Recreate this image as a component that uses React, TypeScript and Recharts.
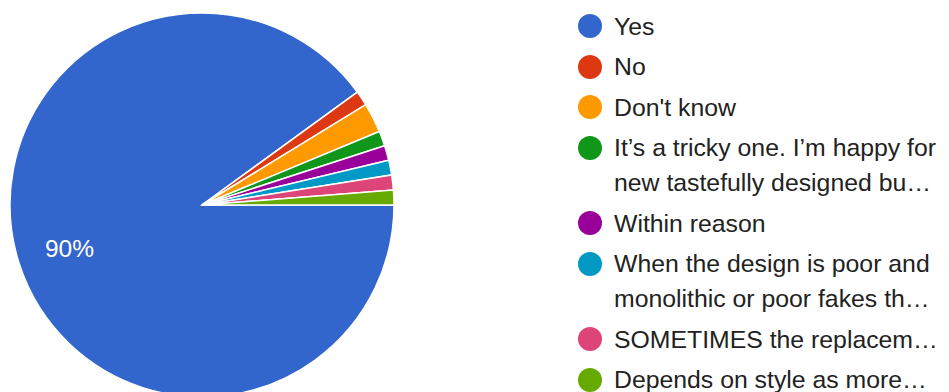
import { PieChart, Pie, Cell, Legend } from "recharts";

const categories = [
  "Yes",
  "No",
  "Don't know",
  "It’s a tricky one. I’m happy for\nnew tastefully designed bu…",
  "Within reason",
  "When the design is poor and\nmonolithic or poor fakes th…",
  "SOMETIMES the replacem…",
  "Depends on style as more…",
];

const responses = [72, 1, 2, 1, 1, 1, 1, 1];

const colors = [
  "#3366cc",
  "#dc3912",
  "#ff9900",
  "#109618",
  "#990099",
  "#0099c6",
  "#dd4477",
  "#66aa00",
];

const FONT = "Arial, 'Liberation Sans', sans-serif";
const RADIAN = Math.PI / 180;

const data = categories.map((name, i) => ({ name, value: responses[i] }));
const total = responses.reduce((a, b) => a + b, 0);

// google only prints the label on slices that are big enough
function renderLabel(props: any) {
  const { cx, cy, midAngle, outerRadius, value } = props;
  const pct = value / total;
  if (pct < 0.05) return null;
  const r = outerRadius * 0.726;
  const x = cx + r * Math.cos(-midAngle * RADIAN);
  const y = cy + r * Math.sin(-midAngle * RADIAN);
  return (
    <text
      x={x}
      y={y}
      fill="#ffffff"
      textAnchor="middle"
      dominantBaseline="central"
      fontSize={24.5}
      fontFamily={FONT}
    >
      {`${Math.round(pct * 100)}%`}
    </text>
  );
}

function LegendList() {
  return (
    <div style={{ fontFamily: FONT, fontSize: 24.8, color: "#222222" }}>
      {categories.map((name, i) => (
        <div
          key={i}
          style={{ position: "relative", paddingLeft: 36, marginBottom: 5.5 }}
        >
          <span
            style={{
              position: "absolute",
              left: 0,
              top: 5.5,
              width: 24,
              height: 24,
              borderRadius: "50%",
              background: colors[i],
            }}
          />
          {name.split("\n").map((line, j) => (
            <div key={j} style={{ height: 35, lineHeight: "35px", whiteSpace: "nowrap" }}>
              {line}
            </div>
          ))}
        </div>
      ))}
    </div>
  );
}

export default function App() {
  return (
    <div style={{ position: "absolute", left: 0, top: 0, width: 949, height: 392, overflow: "hidden", background: "#fff" }}>
      <PieChart width={949} height={392} margin={{ top: 0, right: 0, bottom: 0, left: 0 }}>
        <Pie
          data={data}
          dataKey="value"
          nameKey="name"
          cx={202}
          cy={205}
          outerRadius={192}
          startAngle={0}
          endAngle={-360}
          stroke="#ffffff"
          strokeWidth={1.5}
          labelLine={false}
          label={renderLabel}
          isAnimationActive={false}
        >
          {data.map((d, i) => (
            <Cell key={d.name} fill={colors[i]} />
          ))}
        </Pie>
        <Legend
          layout="vertical"
          verticalAlign="top"
          align="right"
          content={() => <LegendList />}
          wrapperStyle={{ left: 578, top: 8.5, right: "auto", width: 371 }}
        />
      </PieChart>
    </div>
  );
}
